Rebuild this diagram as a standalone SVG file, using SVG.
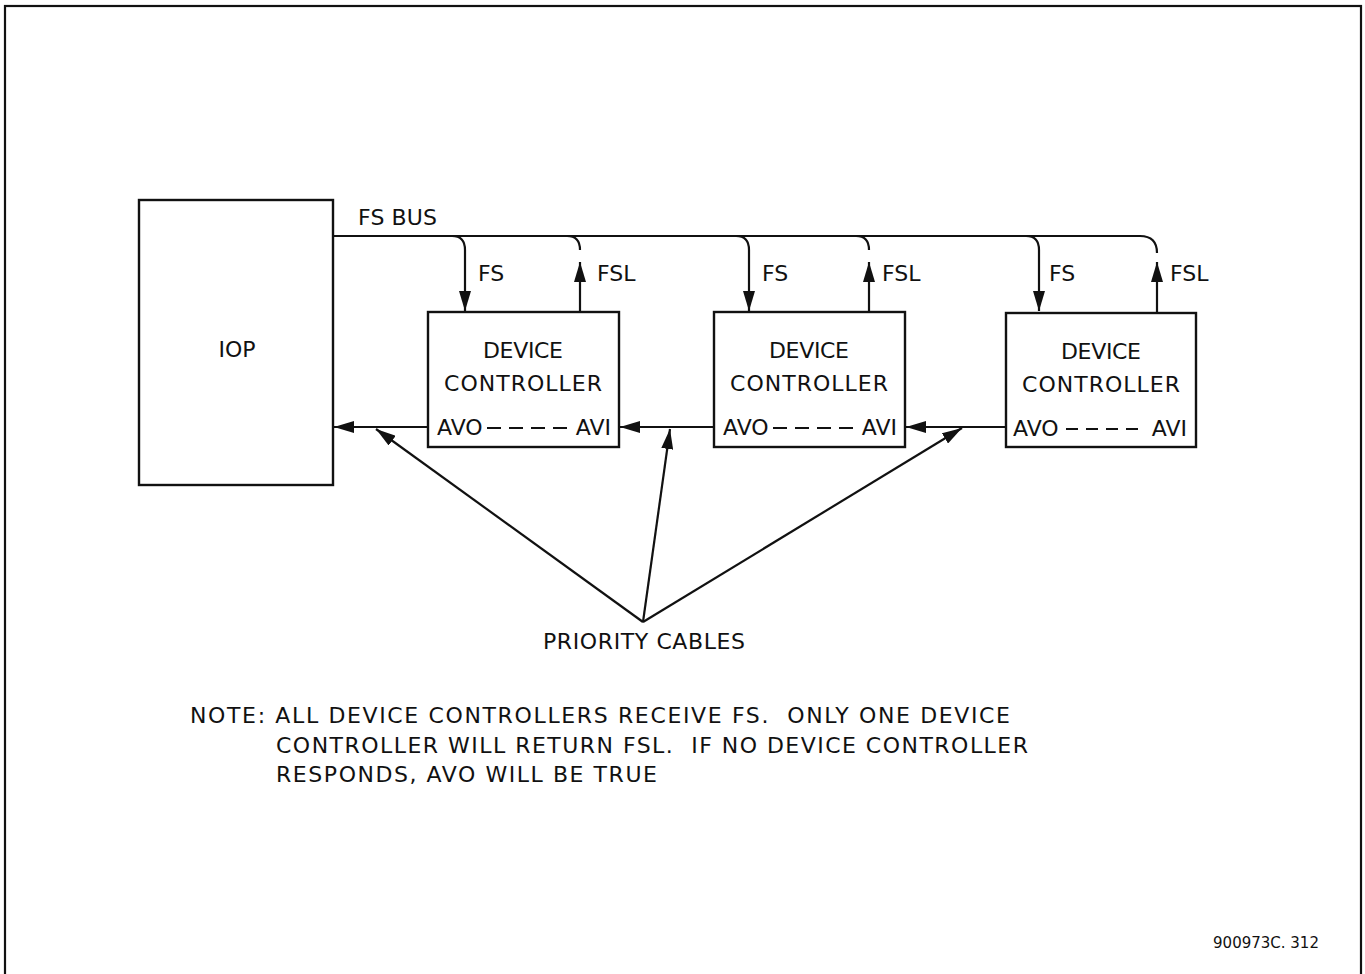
<svg xmlns="http://www.w3.org/2000/svg" width="1365" height="974" viewBox="0 0 1365 974">
<style>
.ln{fill:none;stroke:#111;stroke-width:2.2}
.bx{fill:#fff;stroke:#111;stroke-width:2.4}
.dash{fill:none;stroke:#111;stroke-width:1.8;stroke-dasharray:14,8}
text{font-family:"DejaVu Sans","Liberation Sans",sans-serif;font-size:22px;fill:#111}
.c{text-anchor:middle}
</style>
<defs>
<marker id="ah" viewBox="0 0 20 12" refX="20" refY="6" markerWidth="20" markerHeight="12" markerUnits="userSpaceOnUse" orient="auto">
<path d="M0,0 L20,6 L0,12 Z" fill="#111"/>
</marker>
</defs>
<rect x="5" y="6" width="1356" height="975" class="ln"/>
<g id="connectors">
<path class="ln" d="M333,236 H1140 Q1157,236 1157,253"/>
<path class="ln" d="M1157,312 V262" marker-end="url(#ah)"/>
<path class="ln" d="M452,236 Q465,236 465,250 V311" marker-end="url(#ah)"/>
<path class="ln" d="M567,236 Q580,236 580,250"/>
<path class="ln" d="M580,312 V262" marker-end="url(#ah)"/>
<path class="ln" d="M736,236 Q749,236 749,250 V311" marker-end="url(#ah)"/>
<path class="ln" d="M856,236 Q869,236 869,250"/>
<path class="ln" d="M869,312 V262" marker-end="url(#ah)"/>
<path class="ln" d="M1026,236 Q1039,236 1039,250 V311" marker-end="url(#ah)"/>
<path class="ln" d="M428,427 H334" marker-end="url(#ah)"/>
<path class="ln" d="M714,427 H620" marker-end="url(#ah)"/>
<path class="ln" d="M1006,427 H906" marker-end="url(#ah)"/>
<path class="ln" d="M643,622 L376,429" marker-end="url(#ah)"/>
<path class="ln" d="M643,622 L670,429" marker-end="url(#ah)"/>
<path class="ln" d="M643,622 L962,428" marker-end="url(#ah)"/>
</g>
<g id="iop">
<rect x="139" y="200" width="194" height="285" class="bx"/>
<text x="237" y="357" class="c">IOP</text>
</g>
<g id="dc1">
<rect x="428" y="312" width="191" height="135" class="bx"/>
<text x="523" y="358" class="c" textLength="80" lengthAdjust="spacing">DEVICE</text>
<text x="523" y="391" class="c" textLength="158" lengthAdjust="spacing">CONTROLLER</text>
<text x="437" y="435">AVO</text>
<text x="611" y="435" text-anchor="end">AVI</text>
<path class="dash" d="M487,428 H567"/>
</g>
<g id="dc2">
<rect x="714" y="312" width="191" height="135" class="bx"/>
<text x="809" y="358" class="c" textLength="80" lengthAdjust="spacing">DEVICE</text>
<text x="809" y="391" class="c" textLength="158" lengthAdjust="spacing">CONTROLLER</text>
<text x="723" y="435">AVO</text>
<text x="897" y="435" text-anchor="end">AVI</text>
<path class="dash" d="M773,428 H853"/>
</g>
<g id="dc3">
<rect x="1006" y="313" width="190" height="134" class="bx"/>
<text x="1101" y="359" class="c" textLength="80" lengthAdjust="spacing">DEVICE</text>
<text x="1101" y="392" class="c" textLength="158" lengthAdjust="spacing">CONTROLLER</text>
<text x="1013" y="436">AVO</text>
<text x="1187" y="436" text-anchor="end">AVI</text>
<path class="dash" d="M1066,429 H1142" style="stroke-dasharray:12,8"/>
</g>
<g id="labels">
<text x="358" y="225" textLength="79" lengthAdjust="spacing">FS BUS</text>
<text x="478" y="281">FS</text>
<text x="597" y="281">FSL</text>
<text x="762" y="281">FS</text>
<text x="882" y="281">FSL</text>
<text x="1049" y="281">FS</text>
<text x="1170" y="281">FSL</text>
<text x="543" y="649" textLength="202" lengthAdjust="spacing">PRIORITY CABLES</text>
<text x="190" y="723" textLength="820" lengthAdjust="spacing" xml:space="preserve">NOTE: ALL DEVICE CONTROLLERS RECEIVE FS.  ONLY ONE DEVICE</text>
<text x="276" y="753" textLength="752" lengthAdjust="spacing" xml:space="preserve">CONTROLLER WILL RETURN FSL.  IF NO DEVICE CONTROLLER</text>
<text x="276" y="782" textLength="381" lengthAdjust="spacing">RESPONDS, AVO WILL BE TRUE</text>
<text x="1266" y="948" class="c" style="font-size:15px">900973C. 312</text>
</g>
</svg>
